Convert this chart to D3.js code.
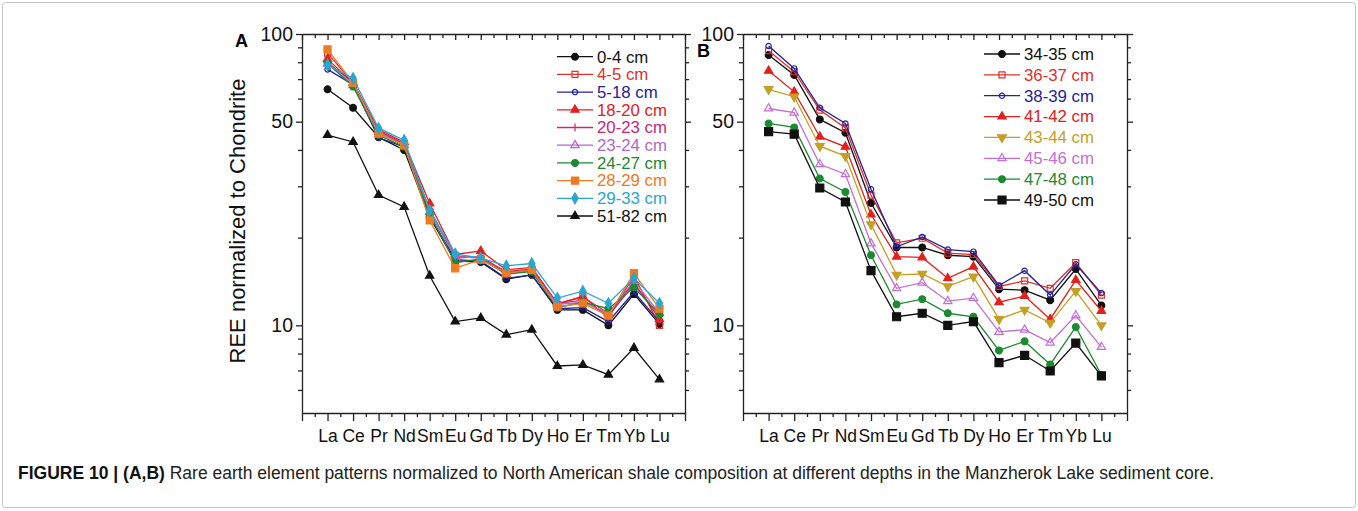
<!DOCTYPE html>
<html>
<head>
<meta charset="utf-8">
<script src="https://cdn.jsdelivr.net/npm/d3@7"></script>
<style>
  body { margin: 0; background: #fff; }
  svg { display: block; font-family: "Liberation Sans", Arial, sans-serif; }
</style>
</head>
<body>
<svg id="chart" width="1358" height="511"></svg>
<script>
// REE elements on the x axis
const elements = ["La", "Ce", "Pr", "Nd", "Sm", "Eu", "Gd", "Tb", "Dy", "Ho", "Er", "Tm", "Yb", "Lu"];

// Panel A
const depthsA = ["0-4 cm", "4-5 cm", "5-18 cm", "18-20 cm", "20-23 cm", "23-24 cm", "24-27 cm", "28-29 cm", "29-33 cm", "51-82 cm"];
const valuesA = [
    [64.6, 55.8, 44.2, 40.0, 23.5, 16.6, 16.5, 14.4, 14.9, 11.3, 11.3, 10.0, 12.8, 10.1],
    [86.0, 68.0, 46.0, 42.0, 24.5, 17.3, 17.0, 15.3, 15.6, 11.8, 12.6, 10.6, 14.8, 10.0],
    [75.6, 67.0, 44.0, 41.0, 23.8, 16.8, 16.6, 14.5, 14.9, 11.4, 11.5, 10.3, 13.0, 10.3],
    [82.0, 68.0, 47.0, 42.5, 26.2, 17.5, 18.0, 15.5, 15.8, 11.9, 12.5, 11.0, 14.0, 10.5],
    [80.0, 68.0, 46.5, 42.0, 25.0, 17.0, 17.2, 15.2, 15.5, 11.9, 12.2, 10.8, 13.8, 10.8],
    [79.0, 67.0, 46.0, 41.5, 24.5, 17.2, 17.0, 15.0, 15.4, 11.8, 12.0, 11.0, 14.2, 11.0],
    [79.3, 66.0, 45.0, 41.0, 24.0, 16.4, 16.9, 15.0, 15.3, 11.5, 12.0, 11.4, 13.5, 10.9],
    [88.5, 68.0, 45.5, 41.5, 22.9, 15.7, 16.8, 15.1, 15.5, 11.6, 11.9, 10.8, 15.1, 11.4],
    [78.2, 70.5, 47.5, 43.2, 24.8, 17.6, 17.0, 16.0, 16.3, 12.4, 13.1, 11.9, 14.5, 11.9],
    [45.0, 42.6, 28.0, 25.5, 14.8, 10.3, 10.6, 9.29, 9.66, 7.25, 7.31, 6.77, 8.36, 6.52]
];
const colorsA = ["#111111", "#e0302c", "#22229a", "#e4201c", "#c8287c", "#b467c8", "#1c8a30", "#f07a22", "#2aa6d2", "#111111"];
const markersA = ["circle", "squareOpen", "circleOpen", "triangle", "plus", "triangleOpen", "circle", "square", "diamond", "triangle"];

// Panel B
const depthsB = ["34-35 cm", "36-37 cm", "38-39 cm", "41-42 cm", "43-44 cm", "45-46 cm", "47-48 cm", "49-50 cm"];
const valuesB = [
    [84.7, 72.3, 50.9, 45.8, 26.3, 18.5, 18.5, 17.4, 17.2, 13.3, 13.2, 12.2, 15.6, 11.7],
    [87.6, 74.2, 54.8, 47.6, 28.0, 19.2, 19.9, 17.7, 17.5, 13.6, 14.2, 13.4, 16.4, 12.7],
    [91.0, 76.2, 55.8, 49.3, 29.3, 18.6, 20.1, 18.2, 17.9, 13.7, 15.4, 12.7, 16.2, 12.9],
    [74.8, 63.3, 44.4, 41.0, 24.0, 17.2, 17.1, 14.5, 15.9, 12.0, 12.6, 10.5, 14.3, 11.2],
    [64.6, 60.9, 41.2, 38.1, 22.2, 14.9, 15.0, 13.6, 14.7, 10.5, 11.3, 10.2, 13.1, 10.0],
    [55.5, 53.7, 35.7, 33.0, 19.1, 13.4, 14.0, 12.1, 12.4, 9.49, 9.66, 8.72, 10.8, 8.42],
    [49.3, 47.8, 31.9, 28.7, 17.4, 11.8, 12.3, 11.0, 10.7, 8.20, 8.81, 7.34, 9.87, 6.75],
    [46.2, 45.3, 29.6, 26.5, 15.4, 10.7, 11.0, 10.0, 10.3, 7.44, 7.89, 6.97, 8.69, 6.70]
];
const colorsB = ["#111111", "#e0302c", "#22229a", "#e4201c", "#c4a024", "#c270d6", "#1c8a30", "#111111"];
const markersB = ["circle", "squareOpen", "circleOpen", "triangle", "triangleDown", "triangleOpen", "circle", "squareBig"];

const yMajor = [10, 50, 100];
const yMinor = [6, 7, 8, 9, 20, 30, 40, 60, 70, 80, 90];

const svg = d3.select("#chart");
const plotTop = 34, plotBottom = 413;

// outer frame
svg.append("rect")
    .attr("x", 2.5).attr("y", 2.5)
    .attr("width", 1353).attr("height", 505)
    .attr("rx", 3)
    .attr("fill", "none")
    .attr("stroke", "#c4c4c4");

function drawMarker(g, kind, cx, cy, color) {
    const m = g.append("path").attr("transform", `translate(${cx},${cy})`)
        .attr("stroke", color).attr("stroke-width", 1.2);
    let d, filled = true;
    switch (kind) {
        case "circle": d = d3.symbol(d3.symbolCircle, 36)(); break;
        case "circleOpen": d = d3.symbol(d3.symbolCircle, 22)(); filled = false; break;
        case "square": d = d3.symbol(d3.symbolSquare, 50)(); break;
        case "squareBig": d = d3.symbol(d3.symbolSquare, 64)(); break;
        case "squareOpen": d = d3.symbol(d3.symbolSquare, 36)(); filled = false; break;
        case "triangle": d = d3.symbol(d3.symbolTriangle, 30)(); break;
        case "triangleOpen": d = d3.symbol(d3.symbolTriangle, 30)(); filled = false; break;
        case "triangleDown":
            d = d3.symbol(d3.symbolTriangle, 34)();
            m.attr("transform", `translate(${cx},${cy}) rotate(180)`);
            break;
        case "diamond": d = d3.symbol(d3.symbolDiamond, 34)(); break;
        case "plus": d = "M-4,0H4M0,-4V4"; filled = false; break;
    }
    m.attr("d", d).attr("fill", filled ? color : "none");
}

function drawPanel(opts) {
    const x = d3.scaleLinear().domain([0, 15]).range([opts.left, opts.right]);
    const y = d3.scaleLog().domain([5, 100]).range([plotBottom, plotTop]);
    const g = svg.append("g");
    const halves = d3.range(0.5, 15, 1);

    const styleAxis = sel => {
        sel.selectAll("path, line").attr("stroke", "#222").attr("stroke-width", 1.3);
        sel.selectAll("text").attr("fill", "#111");
    };

    // bottom axis with element names
    g.append("g").attr("transform", `translate(0,${plotBottom})`)
        .call(d3.axisBottom(x).tickValues(d3.range(0, 16)).tickSize(8).tickSizeOuter(0)
            .tickPadding(9).tickFormat(i => elements[i - 1] || ""))
        .call(styleAxis)
        .call(a => a.selectAll("text").attr("font-size", 17.5));
    g.append("g").attr("transform", `translate(0,${plotBottom})`)
        .call(d3.axisBottom(x).tickValues(halves).tickSize(4).tickFormat(""))
        .call(a => a.select(".domain").remove())
        .call(styleAxis);

    // top axis, ticks pointing in
    g.append("g").attr("transform", `translate(0,${plotTop})`)
        .call(d3.axisBottom(x).tickValues(d3.range(0, 16)).tickSize(6).tickSizeOuter(0).tickFormat(""))
        .call(styleAxis);
    g.append("g").attr("transform", `translate(0,${plotTop})`)
        .call(d3.axisBottom(x).tickValues(halves).tickSize(4).tickFormat(""))
        .call(a => a.select(".domain").remove())
        .call(styleAxis);

    // left axis
    g.append("g").attr("transform", `translate(${opts.left},0)`)
        .call(d3.axisLeft(y).tickValues(yMajor).tickSize(6).tickSizeOuter(0)
            .tickPadding(3).tickFormat(d3.format("d")))
        .call(styleAxis)
        .call(a => a.selectAll("text").attr("font-size", 19.5));
    g.append("g").attr("transform", `translate(${opts.left},0)`)
        .call(d3.axisLeft(y).tickValues(yMinor).tickSize(4).tickFormat(""))
        .call(a => a.select(".domain").remove())
        .call(styleAxis);

    // right axis
    g.append("g").attr("transform", `translate(${opts.right},0)`)
        .call(d3.axisRight(y).tickValues(yMajor).tickSize(6).tickSizeOuter(0).tickFormat(""))
        .call(styleAxis);
    g.append("g").attr("transform", `translate(${opts.right},0)`)
        .call(d3.axisRight(y).tickValues(yMinor).tickSize(4).tickFormat(""))
        .call(a => a.select(".domain").remove())
        .call(styleAxis);

    // series
    const line = d3.line().x((d, i) => x(i + 1)).y(d => y(d));
    opts.values.forEach((vals, s) => {
        const sg = g.append("g");
        sg.append("path").attr("d", line(vals))
            .attr("fill", "none").attr("stroke", opts.colors[s]).attr("stroke-width", 1.3);
        vals.forEach((v, i) => drawMarker(sg, opts.markers[s], x(i + 1), y(v), opts.colors[s]));
    });

    // legend
    const lg = g.append("g");
    opts.labels.forEach((lab, s) => {
        const ly = opts.legendY + s * opts.legendStep;
        lg.append("line")
            .attr("x1", opts.legendX - 18).attr("x2", opts.legendX + 18)
            .attr("y1", ly).attr("y2", ly)
            .attr("stroke", opts.colors[s]).attr("stroke-width", 1.3);
        drawMarker(lg, opts.markers[s], opts.legendX, ly, opts.colors[s]);
        lg.append("text")
            .attr("x", opts.legendX + 22).attr("y", ly)
            .attr("dy", "0.35em")
            .attr("font-size", 16.8)
            .attr("fill", opts.colors[s])
            .text(lab);
    });

    // panel letter
    g.append("text")
        .attr("x", opts.letterX).attr("y", opts.letterY)
        .attr("font-size", 18).attr("font-weight", "bold")
        .text(opts.letter);
}

drawPanel({
    left: 302, right: 685,
    labels: depthsA, values: valuesA, colors: colorsA, markers: markersA,
    legendX: 575, legendY: 56.7, legendStep: 17.7,
    letter: "A", letterX: 235, letterY: 47
});

drawPanel({
    left: 743, right: 1127,
    labels: depthsB, values: valuesB, colors: colorsB, markers: markersB,
    legendX: 1002, legendY: 54, legendStep: 20.86,
    letter: "B", letterX: 697, letterY: 57
});

// y axis title
svg.append("text")
    .attr("transform", "translate(245,221) rotate(-90)")
    .attr("text-anchor", "middle")
    .attr("font-size", 22)
    .attr("fill", "#111")
    .text("REE normalized to Chondrite");

// caption
const cap = svg.append("text")
    .attr("x", 18).attr("y", 479)
    .attr("font-size", 17.5)
    .attr("fill", "#222");
cap.append("tspan").attr("font-weight", "bold").attr("fill", "#111").text("FIGURE 10 | (A,B)");
cap.append("tspan").text(" Rare earth element patterns normalized to North American shale composition at different depths in the Manzherok Lake sediment core.");
</script>
</body>
</html>
